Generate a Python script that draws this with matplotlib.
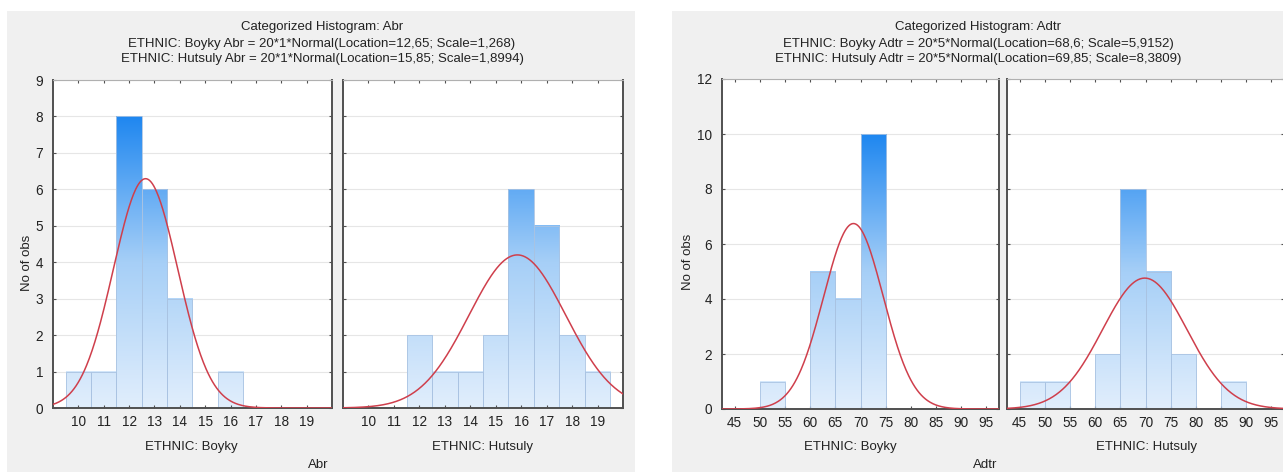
import numpy as np
import matplotlib.pyplot as plt
from matplotlib.colors import LinearSegmentedColormap
from matplotlib.patches import Rectangle

plt.rcParams['font.family'] = ['Liberation Sans', 'DejaVu Sans']

# Abr counts per unit bin (bin centres)
abr_centers = [10, 11, 12, 13, 14, 15, 16, 17, 18, 19]
abr_boyky = [1, 1, 8, 6, 3, 0, 1, 0, 0, 0]
abr_hutsuly = [0, 0, 2, 1, 1, 2, 6, 5, 2, 1]
abr_fit = {'Boyky': (12.65, 1.268), 'Hutsuly': (15.85, 1.8994)}

# Adtr counts per 5-unit bin (left edges)
adtr_edges = [45, 50, 55, 60, 65, 70, 75, 80, 85, 90]
adtr_boyky = [0, 1, 0, 5, 4, 10, 0, 0, 0, 0]
adtr_hutsuly = [1, 1, 0, 2, 8, 5, 2, 0, 1, 0]
adtr_fit = {'Boyky': (68.6, 5.9152), 'Hutsuly': (69.85, 8.3809)}

n_obs = 20

blues = LinearSegmentedColormap.from_list('bars', ['#e1eefc', '#a6cff7', '#1f87f0'])
fs = 9.5
tick_fs = 9.8
dark = '#505050'


def draw_panel(ax, lefts, width, counts, fit, xlim, ylim, yticks, xticks, cmax, show_y):
    ax.set_facecolor('white')
    for y in yticks:
        ax.axhline(y, color='#e6e6e6', lw=0.8, zorder=0)
    for l, c in zip(lefts, counts):
        if c == 0:
            continue
        grad = np.linspace(0, c / cmax, 256).reshape(-1, 1)
        ax.imshow(grad, cmap=blues, vmin=0, vmax=1, origin='lower', aspect='auto',
                  extent=[l, l + width, 0, c], zorder=1, interpolation='bilinear')
        ax.add_patch(Rectangle((l, 0), width, c, fill=False, ec='#a9c3e2', lw=0.6, zorder=2))
    loc, scale = fit
    xs = np.linspace(xlim[0], xlim[1], 400)
    ys = n_obs * width * np.exp(-0.5 * ((xs - loc) / scale) ** 2) / (scale * np.sqrt(2 * np.pi))
    ax.plot(xs, ys, color='#cf3f4c', lw=1.1, zorder=3)
    ax.set_xlim(*xlim)
    ax.set_ylim(*ylim)
    ax.set_xticks(xticks)
    ax.set_yticks(yticks)
    ax.tick_params(direction='in', length=2.5, width=0.8, color=dark, labelsize=tick_fs,
                   labelcolor='#222222', top=True, right=True, pad=5)
    ax.tick_params(axis='y', pad=7)
    if not show_y:
        ax.tick_params(labelleft=False)
    for side in ['left', 'bottom', 'right']:
        ax.spines[side].set_color(dark)
        ax.spines[side].set_linewidth(1.4)
    ax.spines['top'].set_color('#b0b0b0')
    ax.spines['top'].set_linewidth(0.8)


fig = plt.figure(figsize=(12.83, 4.72), dpi=100)
W, H = 1283, 472


def px_axes(x0, x1, y0, y1):
    return fig.add_axes([x0 / W, 1 - y1 / H, (x1 - x0) / W, (y1 - y0) / H])


def px_text(x, y, s, **kw):
    fig.text(x / W, 1 - y / H, s, fontsize=fs, color='#222222', ha='center', va='center', **kw)


# grey panel backgrounds
fig.patches.append(Rectangle((7 / W, 0), 628 / W, 1 - 11 / H, transform=fig.transFigure,
                             fc='#f0f0f0', ec='none', zorder=-1))
fig.patches.append(Rectangle((672 / W, 0), 611 / W, 1 - 11 / H, transform=fig.transFigure,
                             fc='#f0f0f0', ec='none', zorder=-1))

# Abr panels
abr_lefts = [c - 0.5 for c in abr_centers]
abr_max = max(abr_boyky + abr_hutsuly)
ax1 = px_axes(53, 332, 80, 408)
draw_panel(ax1, abr_lefts, 1, abr_boyky, abr_fit['Boyky'], (9, 20), (0, 9),
           range(0, 10), abr_centers, abr_max, True)
ax2 = px_axes(343, 623, 80, 408)
draw_panel(ax2, abr_lefts, 1, abr_hutsuly, abr_fit['Hutsuly'], (9, 20), (0, 9),
           range(0, 10), abr_centers, abr_max, False)

# Adtr panels
adtr_max = max(adtr_boyky + adtr_hutsuly)
adtr_ticks = list(range(45, 100, 5))
ax3 = px_axes(722, 999, 79, 409)
draw_panel(ax3, adtr_edges, 5, adtr_boyky, adtr_fit['Boyky'], (42.5, 97.5), (0, 12),
           range(0, 13, 2), adtr_ticks, adtr_max, True)
ax4 = px_axes(1007, 1284, 79, 409)
draw_panel(ax4, adtr_edges, 5, adtr_hutsuly, adtr_fit['Hutsuly'], (42.5, 97.5), (0, 12),
           range(0, 13, 2), adtr_ticks, adtr_max, False)

# titles
px_text(322, 27, 'Categorized Histogram: Abr')
px_text(322, 44, 'ETHNIC: Boyky Abr = 20*1*Normal(Location=12,65; Scale=1,268)')
px_text(322, 59, 'ETHNIC: Hutsuly Abr = 20*1*Normal(Location=15,85; Scale=1,8994)')
px_text(978, 27, 'Categorized Histogram: Adtr')
px_text(978, 44, 'ETHNIC: Boyky Adtr = 20*5*Normal(Location=68,6; Scale=5,9152)')
px_text(978, 59, 'ETHNIC: Hutsuly Adtr = 20*5*Normal(Location=69,85; Scale=8,3809)')

# category and variable labels
px_text(191, 447, 'ETHNIC: Boyky')
px_text(483, 447, 'ETHNIC: Hutsuly')
px_text(318, 465, 'Abr')
px_text(850, 447, 'ETHNIC: Boyky')
px_text(1147, 447, 'ETHNIC: Hutsuly')
px_text(985, 465, 'Adtr')
px_text(27, 263, 'No of obs', rotation=90)
px_text(688, 262, 'No of obs', rotation=90)

fig.savefig('out.png', dpi=100)
